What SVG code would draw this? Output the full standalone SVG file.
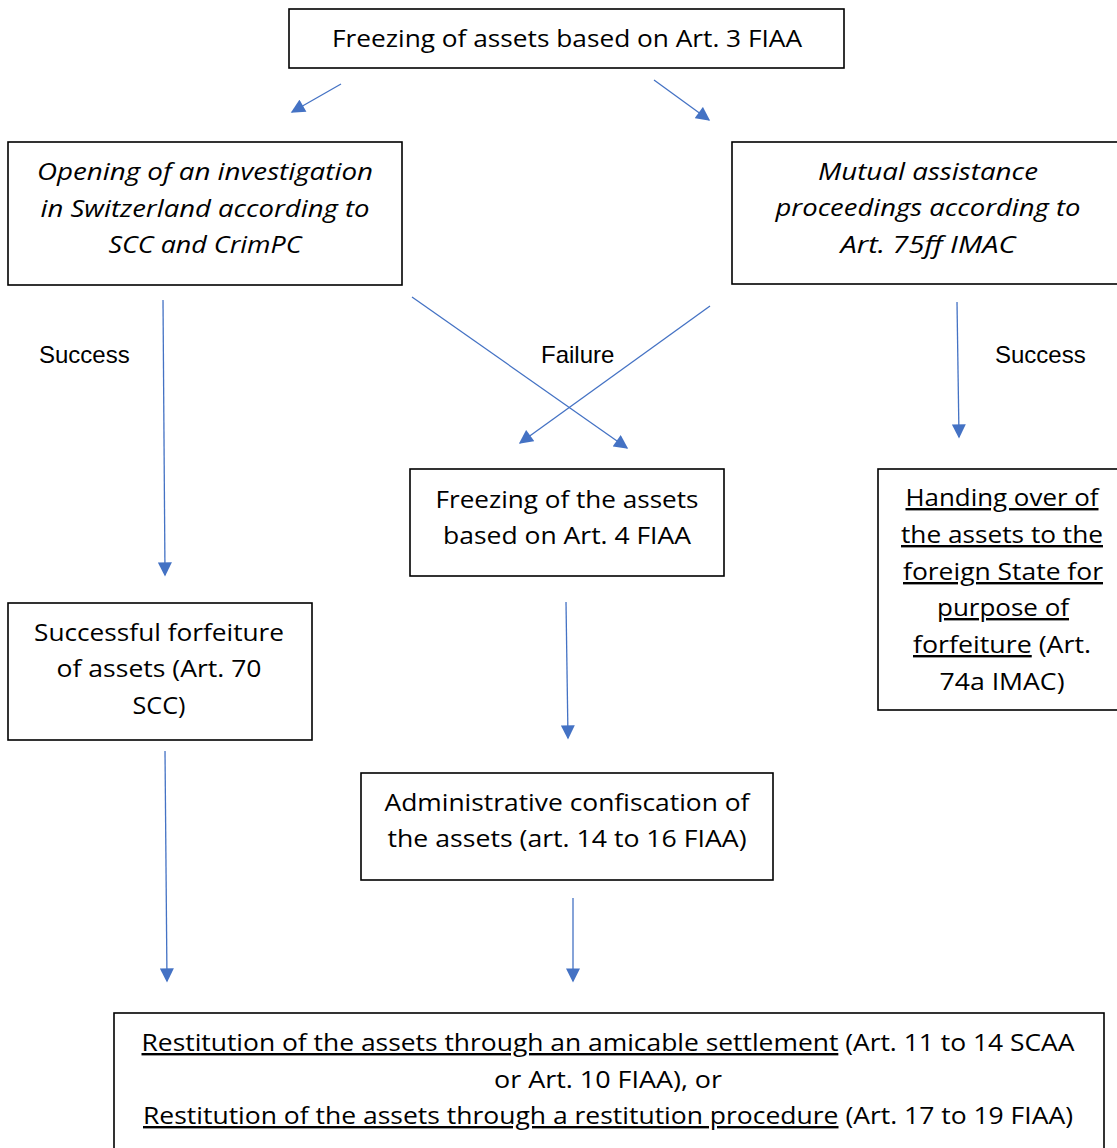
<svg xmlns="http://www.w3.org/2000/svg" width="1117" height="1148" viewBox="0 0 1117 1148">
<defs>
<style>
.box{fill:#fff;stroke:#000;stroke-width:1.6}
.t{font-family:"Open Sans","Noto Sans",sans-serif;font-size:24px;fill:#000;text-anchor:middle}
.i{font-style:italic}
.lbl{font-family:"Liberation Sans",Arial,sans-serif;font-size:24px;fill:#000}
.c{stroke:#4472C4;stroke-width:1.3;fill:none;marker-end:url(#ah)}
</style>
<marker id="ah" viewBox="0 0 10 10" refX="9" refY="5" markerWidth="15" markerHeight="14" markerUnits="userSpaceOnUse" orient="auto">
<path d="M0,0 L10,5 L0,10 z" fill="#4472C4"/>
</marker>
</defs>
<rect width="1117" height="1148" fill="#fff"/>
<g id="connectors">
<line class="c" x1="341" y1="84" x2="292" y2="112"/>
<line class="c" x1="654" y1="80" x2="709" y2="120"/>
<line class="c" x1="163" y1="300" x2="165" y2="575"/>
<line class="c" x1="412" y1="297" x2="627" y2="448"/>
<line class="c" x1="710" y1="306" x2="520" y2="443"/>
<line class="c" x1="957" y1="302" x2="959" y2="437"/>
<line class="c" x1="566" y1="602" x2="568" y2="738"/>
<line class="c" x1="165" y1="751" x2="167" y2="981"/>
<line class="c" x1="573" y1="898" x2="573" y2="981"/>
<text class="lbl" x="39" y="363">Success</text>
<text class="lbl" x="541" y="363">Failure</text>
<text class="lbl" x="995" y="363">Success</text>
</g>
<g id="n1">
<rect class="box" x="289" y="9" width="555" height="59"/>
<text class="t" x="567" y="47" textLength="470" lengthAdjust="spacingAndGlyphs">Freezing of assets based on Art. 3 FIAA</text>
</g>
<g id="n2">
<rect class="box" x="8" y="142" width="394" height="143"/>
<text class="t i" x="205" y="180" textLength="336" lengthAdjust="spacingAndGlyphs">Opening of an investigation</text>
<text class="t i" x="205" y="217" textLength="329" lengthAdjust="spacingAndGlyphs">in Switzerland according to</text>
<text class="t i" x="205" y="253" textLength="193" lengthAdjust="spacingAndGlyphs">SCC and CrimPC</text>
</g>
<g id="n3">
<rect class="box" x="732" y="142" width="390" height="142"/>
<text class="t i" x="928" y="180" textLength="220" lengthAdjust="spacingAndGlyphs">Mutual assistance</text>
<text class="t i" x="928" y="216" textLength="305" lengthAdjust="spacingAndGlyphs">proceedings according to</text>
<text class="t i" x="928" y="253" textLength="175" lengthAdjust="spacingAndGlyphs">Art. 75ff IMAC</text>
</g>
<g id="n4">
<rect class="box" x="410" y="469" width="314" height="107"/>
<text class="t" x="567" y="508" textLength="263" lengthAdjust="spacingAndGlyphs">Freezing of the assets</text>
<text class="t" x="567" y="544" textLength="248" lengthAdjust="spacingAndGlyphs">based on Art. 4 FIAA</text>
</g>
<g id="n5">
<rect class="box" x="878" y="469" width="244" height="241"/>
<text class="t" x="1002" y="506" textLength="193" lengthAdjust="spacingAndGlyphs" text-decoration="underline">Handing over of</text>
<text class="t" x="1002" y="543" textLength="202" lengthAdjust="spacingAndGlyphs" text-decoration="underline">the assets to the</text>
<text class="t" x="1003" y="580" textLength="200" lengthAdjust="spacingAndGlyphs" text-decoration="underline">foreign State for</text>
<text class="t" x="1003" y="616" textLength="132" lengthAdjust="spacingAndGlyphs" text-decoration="underline">purpose of</text>
<text class="t" x="1002" y="653" textLength="178" lengthAdjust="spacingAndGlyphs"><tspan text-decoration="underline">forfeiture</tspan> (Art.</text>
<text class="t" x="1002" y="690" textLength="125" lengthAdjust="spacingAndGlyphs">74a IMAC)</text>
</g>
<g id="n6">
<rect class="box" x="8" y="603" width="304" height="137"/>
<text class="t" x="159" y="641" textLength="250" lengthAdjust="spacingAndGlyphs">Successful forfeiture</text>
<text class="t" x="159" y="677" textLength="205" lengthAdjust="spacingAndGlyphs">of assets (Art. 70</text>
<text class="t" x="159" y="714" textLength="53" lengthAdjust="spacingAndGlyphs">SCC)</text>
</g>
<g id="n7">
<rect class="box" x="361" y="773" width="412" height="107"/>
<text class="t" x="567" y="811" textLength="365" lengthAdjust="spacingAndGlyphs">Administrative confiscation of</text>
<text class="t" x="567" y="847" textLength="359" lengthAdjust="spacingAndGlyphs">the assets (art. 14 to 16 FIAA)</text>
</g>
<g id="n8">
<rect class="box" x="114" y="1013" width="990" height="145"/>
<text class="t" x="608" y="1051" textLength="933" lengthAdjust="spacingAndGlyphs"><tspan text-decoration="underline">Restitution of the assets through an amicable settlement</tspan> (Art. 11 to 14 SCAA</text>
<text class="t" x="608" y="1088" textLength="228" lengthAdjust="spacingAndGlyphs">or Art. 10 FIAA), or</text>
<text class="t" x="608" y="1124" textLength="930" lengthAdjust="spacingAndGlyphs"><tspan text-decoration="underline">Restitution of the assets through a restitution procedure</tspan> (Art. 17 to 19 FIAA)</text>
</g>
</svg>
